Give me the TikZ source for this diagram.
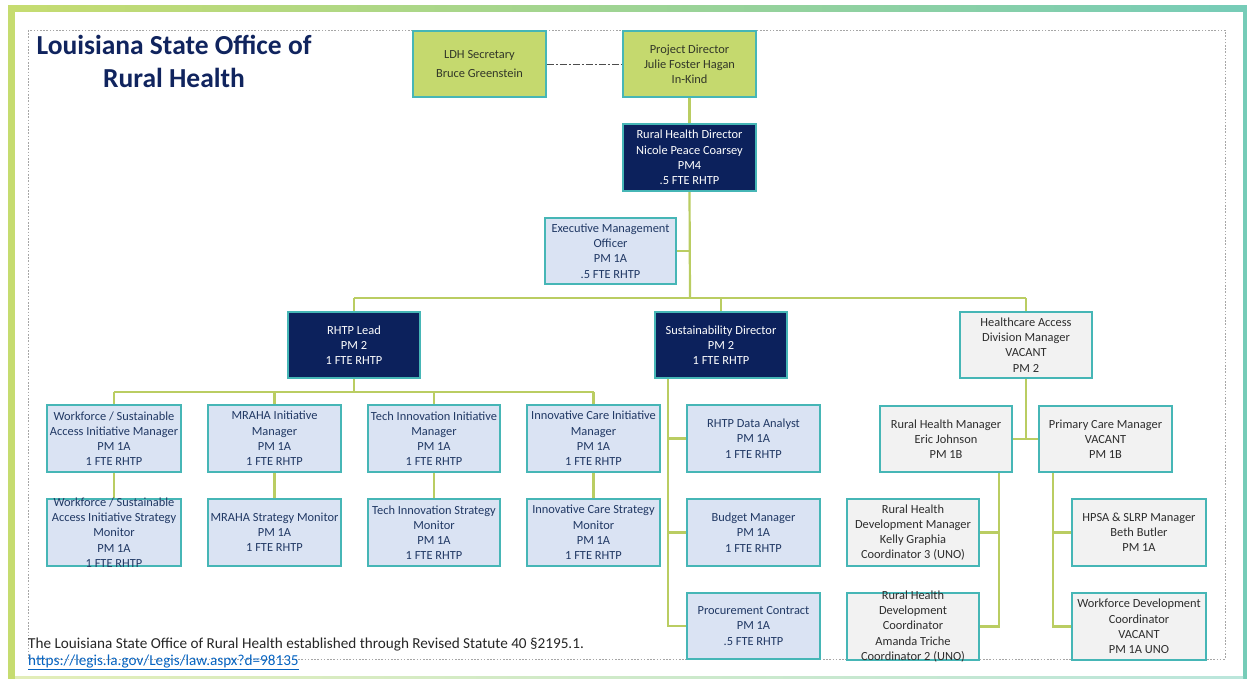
\documentclass[tikz,border=0pt]{standalone}
\usepackage{fontspec}
\setmainfont{Carlito}
\usetikzlibrary{backgrounds}
\definecolor{gfill}{RGB}{197,217,110}
\definecolor{bord}{RGB}{70,182,182}
\definecolor{navy}{RGB}{12,33,92}
\definecolor{lfill}{RGB}{218,227,243}
\definecolor{sfill}{RGB}{242,242,242}
\definecolor{connc}{RGB}{186,205,98}
\definecolor{ltext}{RGB}{32,56,100}
\definecolor{stext}{RGB}{45,45,45}
\definecolor{gtext}{RGB}{50,55,40}
\definecolor{titlec}{RGB}{16,36,94}
\definecolor{linkc}{RGB}{5,99,193}
\definecolor{frg}{RGB}{198,220,112}
\definecolor{frt}{RGB}{118,204,184}
\newcommand\obox[7]{%
  \node[#2, minimum width={(#5-#3)*1pt}, minimum height={(#6-#4)*1pt}] (#1) at ({(#3+#5)/2},{(#4+#6)/2}) {};
  \node[#2txt] (#1t) at (#1.center) {#7};}
\tikzset{
  boxbase/.style={draw=bord, line width=1.8pt, inner sep=0pt},
  gbx/.style={boxbase, fill=gfill},
  nbx/.style={boxbase, fill=navy},
  lbx/.style={boxbase, fill=lfill},
  sbx/.style={boxbase, fill=sfill},
  txtbase/.style={align=center, inner sep=0pt, font=\fontsize{12.4}{15.2}\selectfont},
  gbxtxt/.style={txtbase, text=gtext},
  nbxtxt/.style={txtbase, text=white},
  lbxtxt/.style={txtbase, text=ltext},
  sbxtxt/.style={txtbase, text=stext},
  conn/.style={draw=connc, line width=2.2pt},
  titlefont/.style={font=\fontsize{27.5}{30}\selectfont\bfseries, text=titlec, inner sep=0pt, anchor=base}
}
\begin{document}
\begin{tikzpicture}[x=1pt,y=-1pt]
\useasboundingbox (0,0) rectangle (1247,679);
% title
\node[titlefont] (title1) at (174,55) {Louisiana State Office of};
\node[titlefont] (title2) at (174,88) {Rural Health};
% boxes
\obox{ldh}{gbx}{413}{31}{546}{97}{LDH Secretary\\[4pt]Bruce Greenstein}
\obox{pd}{gbx}{623}{31}{756}{97}{Project Director\\Julie Foster Hagan\\In-Kind}
\obox{rhd}{nbx}{623}{124}{756}{191}{Rural Health Director\\Nicole Peace Coarsey\\PM4\\.5 FTE RHTP}
\obox{emo}{lbx}{545}{218}{676}{284}{Executive Management\\Officer\\PM 1A\\.5 FTE RHTP}
\obox{lead}{nbx}{288}{312}{420}{378}{RHTP Lead\\PM 2\\1 FTE RHTP}
\obox{sd}{nbx}{655}{312}{787}{378}{Sustainability Director\\PM 2\\1 FTE RHTP}
\obox{hadm}{sbx}{960}{312}{1092}{378}{Healthcare Access\\Division Manager\\VACANT\\PM 2}
\obox{wfa}{lbx}{47}{405}{181}{472}{Workforce / Sustainable\\Access Initiative Manager\\PM 1A\\1 FTE RHTP}
\obox{mra}{lbx}{208}{405}{341}{472}{MRAHA Initiative\\Manager\\PM 1A\\1 FTE RHTP}
\obox{tia}{lbx}{368}{405}{500}{472}{Tech Innovation Initiative\\Manager\\PM 1A\\1 FTE RHTP}
\obox{ica}{lbx}{527}{405}{660}{472}{Innovative Care Initiative\\Manager\\PM 1A\\1 FTE RHTP}
\obox{wfb}{lbx}{47}{499}{181}{566}{Workforce / Sustainable\\Access Initiative Strategy\\Monitor\\PM 1A\\1 FTE RHTP}
\obox{mrb}{lbx}{208}{499}{341}{566}{MRAHA Strategy Monitor\\PM 1A\\1 FTE RHTP}
\obox{tib}{lbx}{368}{499}{500}{566}{Tech Innovation Strategy\\Monitor\\PM 1A\\1 FTE RHTP}
\obox{icb}{lbx}{527}{499}{660}{566}{Innovative Care Strategy\\Monitor\\PM 1A\\1 FTE RHTP}
\obox{da}{lbx}{687}{405}{820}{472}{RHTP Data Analyst\\PM 1A\\1 FTE RHTP}
\obox{bm}{lbx}{687}{499}{820}{566}{Budget Manager\\PM 1A\\1 FTE RHTP}
\obox{pc}{lbx}{687}{593}{820}{659}{Procurement Contract\\PM 1A\\.5 FTE RHTP}
\obox{rhm}{sbx}{880}{406}{1012}{472}{Rural Health Manager\\Eric Johnson\\PM 1B}
\obox{pcm}{sbx}{1039}{406}{1172}{472}{Primary Care Manager\\VACANT\\PM 1B}
\obox{rhdm}{sbx}{847}{499}{979}{566}{Rural Health\\Development Manager\\Kelly Graphia\\Coordinator 3 (UNO)}
\obox{rhdc}{sbx}{847}{593}{979}{660}{Rural Health\\Development\\Coordinator\\Amanda Triche\\Coordinator 2 (UNO)}
\obox{hpsa}{sbx}{1072}{499}{1206}{566}{HPSA \& SLRP Manager\\Beth Butler\\PM 1A}
\obox{wdc}{sbx}{1072}{593}{1206}{660}{Workforce Development\\Coordinator\\VACANT\\PM 1A UNO}
% footer
\node[anchor=base west, inner sep=0pt, font=\fontsize{15.2}{17}\selectfont, text=black!85] (foot) at (28,648) {The Louisiana State Office of Rural Health established through Revised Statute 40 §2195.1.};
\node[anchor=base west, inner sep=0pt, font=\fontsize{15.2}{17}\selectfont, text=linkc] (link) at (28,665) {\underline{https://legis.la.gov/Legis/law.aspx?d=98135}};
% coordinates
\coordinate (busa) at (690,298);
\coordinate (busb) at (354,392);
\coordinate (sdv) at (668,378);
\coordinate (rhmv) at (999,472);
\coordinate (pcmv) at (1053,472);
\begin{pgfonlayer}{background}
  % frame
  \fill[frg] (8,6) rectangle (15,679);
  \shade[left color=frg, right color=frt] (8,6) rectangle (1247,12);
  \fill[frt] (1243,6) rectangle (1247,679);
  \shade[left color=frg!50, right color=frt!50] (15,676) rectangle (1243,679);
  \draw[gray!70, line width=0.9pt, dash pattern=on 1.6pt off 1.6pt] (28,30) rectangle (1225,659);
  % connectors
  \draw[black!70, line width=0.8pt, dash pattern=on 7pt off 2pt on 2pt off 2pt] (ldh.east) -- (pd.west);
  \draw[conn] (pd.south) -- (rhd.north);
  \draw[conn] (rhd.south) -- (busa);
  \draw[conn] (emo.east) -- (emo.east -| busa);
  \draw[conn] (lead.north |- busa) -- (hadm.north |- busa);
  \draw[conn] (lead.north) -- (lead.north |- busa);
  \draw[conn] (sd.north) -- (sd.north |- busa);
  \draw[conn] (hadm.north) -- (hadm.north |- busa);
  \draw[conn] (lead.south) -- (busb);
  \draw[conn] (wfa.north |- busb) -- (ica.north |- busb);
  \draw[conn] (wfa.north) -- (wfa.north |- busb);
  \draw[conn] (mra.north) -- (mra.north |- busb);
  \draw[conn] (tia.north) -- (tia.north |- busb);
  \draw[conn] (ica.north) -- (ica.north |- busb);
  \draw[conn] (wfa.south) -- (wfb.north);
  \draw[conn] (mra.south) -- (mrb.north);
  \draw[conn] (tia.south) -- (tib.north);
  \draw[conn] (ica.south) -- (icb.north);
  \draw[conn] (sdv) -- (sdv |- pc.west) -- (pc.west);
  \draw[conn] (da.west) -- (da.west -| sdv);
  \draw[conn] (bm.west) -- (bm.west -| sdv);
  \draw[conn] (hadm.south) -- (hadm.south |- rhm.east);
  \draw[conn] (rhm.east) -- (pcm.west);
  \draw[conn] (rhmv) -- (rhmv |- rhdc.east) -- (rhdc.east);
  \draw[conn] (rhdm.east) -- (rhdm.east -| rhmv);
  \draw[conn] (pcmv) -- (pcmv |- wdc.west) -- (wdc.west);
  \draw[conn] (hpsa.west) -- (hpsa.west -| pcmv);
\end{pgfonlayer}
\end{tikzpicture}
\end{document}
